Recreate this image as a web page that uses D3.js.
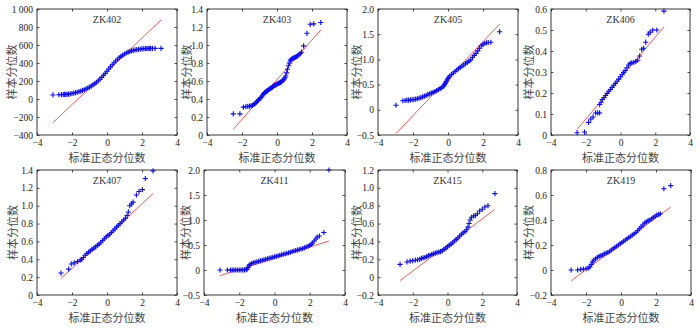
<!DOCTYPE html>
<html><head><meta charset="utf-8">
<script src="https://cdn.jsdelivr.net/npm/d3@7"></script>
<style>
body{margin:0;background:#fff;}
svg{display:block;}
.tick text{font-family:"Liberation Serif","Times New Roman",serif;font-size:9.5px;fill:#222;}
.tick line{stroke:#222;stroke-width:0.8;}
</style></head>
<body>
<svg id="c" width="700" height="328"></svg>
<script>
// ---------------- DATA ----------------
const titles = ["ZK402","ZK403","ZK405","ZK406","ZK407","ZK411","ZK415","ZK419"];
const xTickValues = [-4,-2,0,2,4];
const xTickLabels = ["−4","−2","0","2","4"];
const yDomains = [[-400,1000],[0,1.4],[-0.5,2.0],[0,0.6],[0,1.4],[-0.5,2.0],[-0.2,1.2],[-0.2,0.8]];
const yTickValues = [
  [-400,-200,0,200,400,600,800,1000],
  [0,0.2,0.4,0.6,0.8,1.0,1.2,1.4],
  [-0.5,0,0.5,1.0,1.5,2.0],
  [0,0.1,0.2,0.3,0.4,0.5,0.6],
  [0,0.2,0.4,0.6,0.8,1.0,1.2,1.4],
  [-0.5,0,0.5,1.0,1.5,2.0],
  [-0.2,0,0.2,0.4,0.6,0.8,1.0,1.2],
  [-0.2,0,0.2,0.4,0.6,0.8]
];
const yTickLabels = [
  ["−400","−200","0","200","400","600","800","1 000"],
  ["0","0.2","0.4","0.6","0.8","1.0","1.2","1.4"],
  ["−0.5","0","0.5","1.0","1.5","2.0"],
  ["0","0.1","0.2","0.3","0.4","0.5","0.6"],
  ["0","0.2","0.4","0.6","0.8","1.0","1.2","1.4"],
  ["−0.5","0","0.5","1.0","1.5","2.0"],
  ["−0.2","0","0.2","0.4","0.6","0.8","1.0","1.2"],
  ["−0.2","0","0.2","0.4","0.6","0.8"]
];
const xLabel = "标准正态分位数";
const yLabel = "样本分位数";

// sample quantiles [theoretical, sample]
const zk402 = [[-3.09,45],[-2.75,47],[-2.6,49],[-2.5,50],[-2.42,51],[-2.35,52],[-2.28,53],[-2.2,55],[-2.1,58],[-2.0,61],[-1.9,65],[-1.8,70],[-1.7,75],[-1.6,81],[-1.5,88],[-1.4,95],[-1.3,103],[-1.2,112],[-1.1,122],[-1.0,132],[-0.9,144],[-0.8,157],[-0.7,171],[-0.6,186],[-0.5,202],[-0.4,220],[-0.3,240],[-0.2,262],[-0.1,285],[0,309],[0.1,333],[0.2,357],[0.3,380],[0.4,402],[0.5,422],[0.6,441],[0.7,458],[0.8,474],[0.9,488],[1.0,500],[1.1,511],[1.2,520],[1.3,528],[1.4,535],[1.5,540],[1.6,545],[1.7,549],[1.8,552],[1.9,555],[2.0,557],[2.1,559],[2.2,560],[2.28,561],[2.35,561],[2.42,562],[2.5,562],[2.6,563],[2.75,563],[3.09,563]];
const zk403 = [[-2.5,0.235],[-2.12,0.235],[-1.92,0.31],[-1.78,0.315],[-1.67,0.318],[-1.57,0.32],[-1.48,0.325],[-1.4,0.33],[-1.32,0.34],[-1.25,0.35],[-1.18,0.365],[-1.11,0.38],[-1.05,0.39],[-0.99,0.40],[-0.93,0.415],[-0.87,0.43],[-0.81,0.445],[-0.76,0.46],[-0.7,0.47],[-0.65,0.478],[-0.6,0.485],[-0.55,0.49],[-0.5,0.50],[-0.45,0.51],[-0.4,0.515],[-0.35,0.52],[-0.3,0.527],[-0.25,0.535],[-0.2,0.54],[-0.15,0.55],[-0.1,0.555],[-0.05,0.56],[0,0.565],[0.05,0.57],[0.1,0.575],[0.15,0.58],[0.2,0.585],[0.25,0.59],[0.3,0.6],[0.35,0.61],[0.4,0.62],[0.45,0.635],[0.5,0.655],[0.55,0.69],[0.6,0.73],[0.65,0.77],[0.7,0.80],[0.76,0.825],[0.81,0.84],[0.87,0.85],[0.93,0.855],[0.99,0.86],[1.05,0.865],[1.11,0.87],[1.18,0.88],[1.25,0.89],[1.32,0.905],[1.4,0.92],[1.52,0.99],[1.71,1.13],[1.9,1.23],[2.1,1.235],[2.5,1.25]];
const zk405 = [[-2.97,0.09],[-2.58,0.18],[-2.45,0.185],[-2.35,0.19],[-2.25,0.19],[-2.15,0.195],[-2.05,0.2],[-1.95,0.205],[-1.85,0.21],[-1.75,0.22],[-1.65,0.23],[-1.55,0.24],[-1.45,0.255],[-1.35,0.27],[-1.25,0.285],[-1.15,0.30],[-1.05,0.315],[-0.95,0.33],[-0.85,0.345],[-0.75,0.36],[-0.65,0.38],[-0.55,0.40],[-0.45,0.42],[-0.35,0.44],[-0.25,0.47],[-0.2,0.50],[-0.15,0.53],[-0.1,0.56],[-0.05,0.59],[0,0.62],[0.05,0.645],[0.1,0.67],[0.2,0.70],[0.3,0.73],[0.4,0.76],[0.5,0.79],[0.6,0.815],[0.7,0.84],[0.8,0.865],[0.9,0.89],[1.0,0.915],[1.1,0.94],[1.2,0.965],[1.3,0.99],[1.4,1.04],[1.5,1.08],[1.6,1.12],[1.7,1.17],[1.8,1.22],[1.9,1.27],[2.0,1.30],[2.1,1.32],[2.2,1.33],[2.3,1.335],[2.45,1.34],[2.95,1.55]];
const zk406 = [[-2.5,0.011],[-2.07,0.014],[-1.84,0.06],[-1.71,0.076],[-1.58,0.086],[-1.43,0.105],[-1.31,0.105],[-1.2,0.105],[-1.2,0.145],[-1.12,0.156],[-1.05,0.169],[-0.95,0.178],[-0.86,0.188],[-0.77,0.198],[-0.67,0.208],[-0.58,0.217],[-0.48,0.227],[-0.39,0.237],[-0.29,0.246],[-0.2,0.256],[-0.1,0.266],[0,0.278],[0.09,0.288],[0.18,0.298],[0.27,0.307],[0.37,0.32],[0.46,0.333],[0.56,0.341],[0.65,0.344],[0.77,0.346],[0.88,0.35],[0.99,0.356],[1.1,0.376],[1.22,0.408],[1.33,0.413],[1.45,0.442],[1.6,0.48],[1.71,0.49],[1.86,0.5],[2.09,0.5],[2.5,0.59]];
const zk407 = [[-2.63,0.246],[-2.19,0.29],[-2.04,0.348],[-1.87,0.36],[-1.68,0.375],[-1.53,0.39],[-1.45,0.40],[-1.35,0.42],[-1.25,0.445],[-1.15,0.465],[-1.05,0.48],[-0.95,0.495],[-0.85,0.51],[-0.75,0.525],[-0.65,0.54],[-0.55,0.555],[-0.45,0.57],[-0.35,0.59],[-0.25,0.61],[-0.15,0.63],[-0.05,0.65],[0.05,0.665],[0.15,0.68],[0.25,0.70],[0.35,0.72],[0.45,0.74],[0.55,0.76],[0.65,0.78],[0.75,0.80],[0.85,0.82],[0.95,0.84],[1.05,0.86],[1.15,0.89],[1.22,0.93],[1.3,1.0],[1.4,1.02],[1.49,1.04],[1.68,1.12],[1.83,1.16],[2.02,1.18],[2.19,1.305],[2.63,1.39]];
const zk411 = [[-3.09,0],[-2.67,0],[-2.5,0],[-2.4,0],[-2.3,0],[-2.2,0],[-2.1,0],[-2.0,0],[-1.9,0],[-1.8,0],[-1.7,0],[-1.6,0.005],[-1.55,0.02],[-1.5,0.05],[-1.45,0.085],[-1.4,0.11],[-1.3,0.13],[-1.2,0.145],[-1.1,0.155],[-1.0,0.165],[-0.9,0.175],[-0.8,0.185],[-0.7,0.195],[-0.6,0.205],[-0.5,0.215],[-0.4,0.225],[-0.3,0.235],[-0.2,0.245],[-0.1,0.255],[0,0.265],[0.1,0.275],[0.2,0.285],[0.3,0.295],[0.4,0.305],[0.5,0.315],[0.6,0.325],[0.7,0.335],[0.8,0.345],[0.9,0.355],[1.0,0.37],[1.1,0.38],[1.2,0.39],[1.3,0.40],[1.4,0.41],[1.5,0.42],[1.6,0.43],[1.7,0.445],[1.8,0.46],[1.9,0.475],[2.0,0.49],[2.08,0.51],[2.15,0.54],[2.25,0.58],[2.35,0.62],[2.42,0.66],[2.55,0.68],[2.8,0.75],[3.09,2.0]];
const zk415 = [[-2.73,0.143],[-2.33,0.17],[-2.15,0.18],[-2.0,0.185],[-1.85,0.19],[-1.72,0.195],[-1.6,0.20],[-1.5,0.21],[-1.4,0.215],[-1.3,0.22],[-1.2,0.23],[-1.1,0.24],[-1.0,0.245],[-0.9,0.255],[-0.8,0.262],[-0.7,0.27],[-0.6,0.275],[-0.5,0.28],[-0.4,0.285],[-0.3,0.295],[-0.2,0.31],[-0.1,0.325],[0,0.34],[0.1,0.355],[0.2,0.37],[0.3,0.385],[0.4,0.405],[0.5,0.42],[0.6,0.44],[0.7,0.46],[0.8,0.48],[0.9,0.495],[1.0,0.51],[1.1,0.53],[1.18,0.56],[1.24,0.60],[1.3,0.64],[1.38,0.67],[1.5,0.685],[1.6,0.69],[1.72,0.71],[1.85,0.74],[2.0,0.76],[2.15,0.785],[2.33,0.80],[2.73,0.935]];
const zk419 = [[-2.85,0.0],[-2.48,0.0],[-2.3,0.005],[-2.15,0.008],[-2.0,0.01],[-1.88,0.015],[-1.78,0.025],[-1.7,0.045],[-1.62,0.065],[-1.55,0.08],[-1.45,0.09],[-1.35,0.10],[-1.25,0.11],[-1.15,0.115],[-1.05,0.12],[-0.95,0.13],[-0.85,0.135],[-0.75,0.14],[-0.65,0.15],[-0.55,0.16],[-0.45,0.17],[-0.35,0.18],[-0.25,0.19],[-0.15,0.20],[-0.05,0.21],[0.05,0.22],[0.15,0.23],[0.25,0.24],[0.35,0.25],[0.45,0.26],[0.55,0.27],[0.65,0.28],[0.75,0.29],[0.85,0.30],[0.95,0.315],[1.05,0.33],[1.15,0.345],[1.25,0.36],[1.35,0.375],[1.45,0.385],[1.55,0.395],[1.65,0.40],[1.75,0.41],[1.85,0.42],[1.95,0.43],[2.05,0.44],[2.15,0.445],[2.25,0.45],[2.45,0.65],[2.84,0.675]];
const samples = [zk402, zk403, zk405, zk406, zk407, zk411, zk415, zk419];

// reference lines (end points)
const refLines = [
  [[-3.09,-263],[3.09,878]],
  [[-2.5,0.064],[2.5,1.167]],
  [[-2.97,-0.47],[2.95,1.70]],
  [[-2.5,0.027],[2.5,0.515]],
  [[-2.63,0.185],[2.63,1.135]],
  [[-3.09,-0.113],[3.09,0.58]],
  [[-2.73,-0.038],[2.73,0.76]],
  [[-2.85,-0.086],[2.84,0.504]]
];

// ---------------- LAYOUT ----------------
const frames = [
  {l:37,r:177,t:9,b:135,yl:13},{l:207,r:347,t:9,b:135,yl:188},{l:378,r:518,t:9,b:135,yl:358},{l:551,r:690,t:9,b:135,yl:530},
  {l:37,r:177,t:170,b:295,yl:14},{l:204,r:345,t:170,b:295,yl:187},{l:378,r:517,t:170,b:295,yl:358},{l:551,r:691,t:170,b:295,yl:530}
];

const svg = d3.select("#c");
const cjk = '"Noto Sans CJK SC","Noto Sans CJK JP",sans-serif';
const serif = '"Liberation Serif","Times New Roman",serif';

frames.forEach((f, i) => {
  const x = d3.scaleLinear().domain([-4,4]).range([f.l, f.r]);
  const y = d3.scaleLinear().domain(yDomains[i]).range([f.b, f.t]);
  const g = svg.append("g");

  const xfmt = v => xTickLabels[xTickValues.indexOf(v)];
  const yfmt = v => { const k = yTickValues[i].findIndex(t => Math.abs(t - v) < 1e-9); return k < 0 ? "" : yTickLabels[i][k]; };

  g.append("g").attr("transform", `translate(0,${f.b})`)
    .call(d3.axisBottom(x).tickValues(xTickValues).tickFormat(xfmt).tickSizeInner(-2.5).tickSizeOuter(0).tickPadding(4))
    .call(a => a.select(".domain").remove());
  g.append("g").attr("transform", `translate(0,${f.t})`)
    .call(d3.axisTop(x).tickValues(xTickValues).tickFormat("").tickSizeInner(-2.5).tickSizeOuter(0))
    .call(a => a.select(".domain").remove());
  g.append("g").attr("transform", `translate(${f.l},0)`)
    .call(d3.axisLeft(y).tickValues(yTickValues[i]).tickFormat(yfmt).tickSizeInner(-2.5).tickSizeOuter(0).tickPadding(4))
    .call(a => a.select(".domain").remove());
  g.append("g").attr("transform", `translate(${f.r},0)`)
    .call(d3.axisRight(y).tickValues(yTickValues[i]).tickFormat("").tickSizeInner(-2.5).tickSizeOuter(0))
    .call(a => a.select(".domain").remove());

  // reference line
  g.append("line")
    .attr("x1", x(refLines[i][0][0])).attr("y1", y(refLines[i][0][1]))
    .attr("x2", x(refLines[i][1][0])).attr("y2", y(refLines[i][1][1]))
    .attr("stroke", "#ff2a2a").attr("stroke-width", 0.8);

  // plus markers
  const s = 2.6;
  g.append("g").selectAll("path").data(samples[i]).join("path")
    .attr("d", d => { const px = x(d[0]), py = y(d[1]);
      return `M${px - s},${py}H${px + s}M${px},${py - s}V${py + s}`; })
    .attr("stroke", "#0a0aff").attr("stroke-width", 1.1).attr("fill", "none");

  // frame
  g.append("rect").attr("x", f.l).attr("y", f.t).attr("width", f.r - f.l).attr("height", f.b - f.t)
    .attr("fill", "none").attr("stroke", "#222").attr("stroke-width", 0.9);

  // title
  g.append("text").attr("x", (f.l + f.r) / 2).attr("y", f.t + 14)
    .attr("text-anchor", "middle").attr("font-family", serif).attr("font-size", 10).attr("fill", "#333")
    .text(titles[i]);

  // axis labels
  g.append("text").attr("x", (f.l + f.r) / 2).attr("y", f.b + 27)
    .attr("text-anchor", "middle").attr("font-family", cjk).attr("font-size", 11).attr("fill", "#444")
    .text(xLabel);
  g.append("text").attr("transform", `translate(${f.yl},${(f.t + f.b) / 2}) rotate(-90)`)
    .attr("text-anchor", "middle").attr("dominant-baseline", "middle")
    .attr("font-family", cjk).attr("font-size", 11).attr("fill", "#444")
    .text(yLabel);
});
</script>
</body></html>
